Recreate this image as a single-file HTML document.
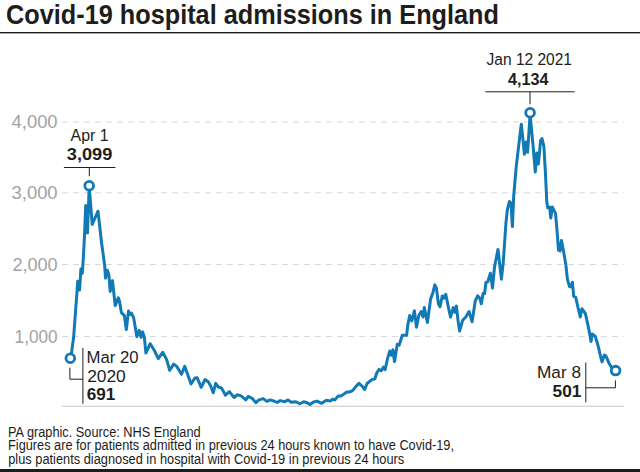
<!DOCTYPE html>
<html lang="en">
<head>
<meta charset="utf-8">
<title>Covid-19 hospital admissions in England</title>
<style>
html,body{margin:0;padding:0;background:#fff;}
body{width:640px;height:472px;overflow:hidden;position:relative;font-family:"Liberation Sans",Arial,sans-serif;}
svg{position:absolute;left:0;top:0;display:block;}
text{font-family:"Liberation Sans",Arial,sans-serif;}
.title{font-weight:bold;font-size:27.5px;fill:#1d1d1b;}
.ax{font-size:17.5px;fill:#a2a2a2;}
.lb{font-size:16.3px;fill:#1d1d1b;}
.lbb{font-size:17px;font-weight:bold;fill:#1d1d1b;}
.ft{font-size:14px;fill:#1d1d1b;}
.grid{stroke:#d6d6d6;stroke-width:1;stroke-dasharray:5.5 5.5;fill:none;}
.call{stroke:#1d1d1b;stroke-width:1;fill:none;}
.dot{fill:#fff;stroke:#1079b6;stroke-width:2.8;}
.curve{fill:none;stroke:#1079b6;stroke-width:3;stroke-linejoin:round;stroke-linecap:round;}
</style>
</head>
<body>
<svg width="640" height="472" viewBox="0 0 640 472">
<rect x="0" y="0" width="640" height="472" fill="#fff"/>
<text class="title" x="6" y="23.9" textLength="493" lengthAdjust="spacingAndGlyphs">Covid-19 hospital admissions in England</text>
<rect x="0" y="32" width="640" height="1.4" fill="#1d1d1b"/>
<!-- grid -->
<line class="grid" x1="62.2" y1="122" x2="624.5" y2="122"/>
<line class="grid" x1="62.2" y1="192.8" x2="624.5" y2="192.8"/>
<line class="grid" x1="62.2" y1="264.5" x2="624.5" y2="264.5"/>
<line class="grid" x1="62.2" y1="336.5" x2="624.5" y2="336.5"/>
<line x1="62" y1="406.2" x2="624.3" y2="406.2" stroke="#c9c9c9" stroke-width="1"/>
<!-- axis labels -->
<text class="ax" x="11.6" y="128" textLength="46" lengthAdjust="spacingAndGlyphs">4,000</text>
<text class="ax" x="11.6" y="199.2" textLength="46" lengthAdjust="spacingAndGlyphs">3,000</text>
<text class="ax" x="12.4" y="271" textLength="45.2" lengthAdjust="spacingAndGlyphs">2,000</text>
<text class="ax" x="14.6" y="343.1" textLength="43" lengthAdjust="spacingAndGlyphs">1,000</text>
<!-- curve -->
<polyline id="curve" class="curve" points="70.5,358.3 71.6,352 73.6,337.5 75.6,310.3 76.9,293.4 77.7,281.3 79.6,290 80.9,269 82.3,273.4 83.4,257 84.6,233.5 85.7,205.5 87.5,233 89.2,186 92.2,224.5 98,211.2 101.6,243 104,260.5 104.7,265.7 105.5,278.2 107.3,270.2 108.9,275 110.2,291.5 112.5,280.6 113.6,290.8 115.2,305.6 118.3,297.8 119.6,301.7 121.4,312.7 124.4,315.6 126.3,329.6 128.5,311 129.7,314.5 131.5,313.1 133.7,318 136.8,336.6 139.2,330.4 141.1,337.4 142.6,331.9 144.4,337.4 145.9,353.1 150.2,343.7 154.1,350 158.3,358.6 162.7,352.3 166.6,359.4 169.7,370.3 173.7,364.1 176.8,366.4 181.5,374.3 184.7,366.3 187.8,374.8 191,384 194.9,378 197.2,377.8 201.2,387.3 205.1,379.5 208.2,381.8 210.6,385.8 213.2,392.8 215.7,383.4 218.4,387 221.5,388.1 225.5,395.2 229.4,391.7 234.1,397.5 237.2,394.8 241.1,395.9 245.8,399.9 248.2,396.4 252.1,398.3 256,402.7 258.4,400.2 263.1,398.6 267,401.4 270.1,399.9 273.9,401 277.1,402.5 280.2,400.6 284.9,401.7 288,399.9 291.2,402.2 295.9,401.7 299.8,403.8 303.7,401.7 307.6,403 310,404.6 313.1,402.2 317,401.1 321.7,403.3 326.4,400.2 330.3,401.1 332.7,399.1 335,399.9 338.2,395.9 341.3,395.9 346.8,392 349.2,392 352.3,390.9 356.2,386.1 359,383.4 362.5,386.5 364.7,389.5 367.1,383.5 371.8,379.6 374.9,378.8 376.9,372.5 379.1,369.4 381.2,370.9 383.5,367 385.1,369.8 387.4,359.2 389.8,351 391.3,355.3 392.9,349.8 394.5,361.5 397.3,344.3 399.2,345.1 402.3,335.2 406.6,335.3 407.8,324.9 409.7,315.5 411.8,320.9 414.4,310.8 416.5,327.2 418.8,315.5 421.2,311.5 423,317 424.3,307.6 427.4,322.5 430.6,299 432.9,292.7 434.8,284.9 436.4,288 438.4,303.7 440,306.8 442.3,295.9 443.9,298.2 445.8,294.3 447.8,304.5 450.5,317 453.3,307.6 454.9,312.3 456.4,306 458,320.2 459.6,331.1 462.7,320.2 465.8,317 469,311.5 472.1,321.7 475.2,301.3 477.6,295.9 479.9,298.2 481.2,303.7 483.1,293.5 484.6,293.5 485.9,282.5 487.8,281.8 490.4,273.3 492.5,288 494.5,267 498,249.4 501.4,279.2 503.3,262 505.9,223.5 507.4,209.4 509.5,201.5 511,203.3 512.4,226.6 513.7,196 516.3,166.1 518.5,147.4 521.3,124.2 523,139.6 524.4,154.3 526.2,142 527.6,152.3 530.1,114 532.9,144.1 535.3,172 536.8,152.9 538.4,163.9 540.6,140.7 542,138.6 543.9,146.3 545.4,172.7 546.8,202 547.7,207.8 549.7,207.1 550.8,218 552.4,207.1 555.5,213.3 557.1,231.3 558.5,250.2 560,251 561.4,240.4 563.5,251 565.9,265.1 567.4,279.2 569.5,286.7 571,286.7 572.4,282.3 573.7,296.4 575.7,297.2 577.7,306.3 580.3,317 581.9,308.7 585.4,313.6 588,325.4 590.2,336.4 591,341.5 592.2,333.9 595.3,336.4 598.1,345.8 600.7,356.8 602,361.9 604.4,355.1 606.1,356.3 609.2,363.6 611.7,367.8 615.7,370.9"/>
<!-- callouts -->
<path class="call" d="M63.9 167.5H115.4M89.3 167.5V176.2"/>
<text class="lb" x="70.6" y="140.5" textLength="38" lengthAdjust="spacingAndGlyphs">Apr 1</text>
<text class="lbb" x="66.8" y="160" textLength="45.6" lengthAdjust="spacingAndGlyphs">3,099</text>
<circle class="dot" cx="89.2" cy="185.7" r="4.35"/>

<path class="call" d="M485.4 91.8H574.6M530 91.8V104.3"/>
<text class="lb" x="486.6" y="65.4" textLength="85.4" lengthAdjust="spacingAndGlyphs">Jan 12 2021</text>
<text class="lbb" x="508" y="84.7" textLength="40.4" lengthAdjust="spacingAndGlyphs">4,134</text>
<circle class="dot" cx="530.1" cy="112.7" r="4.35"/>

<path class="call" d="M82.9 348V403.8M69.9 367.8V379.2H82.9"/>
<text class="lb" x="86.6" y="362.8" textLength="52" lengthAdjust="spacingAndGlyphs">Mar 20</text>
<text class="lb" x="87.2" y="381.8" textLength="38.6" lengthAdjust="spacingAndGlyphs">2020</text>
<text class="lbb" x="86.8" y="400.4" textLength="28.6" lengthAdjust="spacingAndGlyphs">691</text>
<circle class="dot" cx="70.3" cy="358.3" r="4.35"/>

<path class="call" d="M585.8 362.5V402.3M585.8 387.8H615.4V380.4"/>
<text class="lb" x="537" y="378.1" textLength="44" lengthAdjust="spacingAndGlyphs">Mar 8</text>
<text class="lbb" x="552.6" y="397.1" textLength="28.8" lengthAdjust="spacingAndGlyphs">501</text>
<circle class="dot" cx="615.6" cy="370.6" r="4.35"/>
<!-- footer -->
<text class="ft" x="8" y="437.2" textLength="192.6" lengthAdjust="spacingAndGlyphs">PA graphic. Source: NHS England</text>
<text class="ft" x="8" y="450.4" textLength="446" lengthAdjust="spacingAndGlyphs">Figures are for patients admitted in previous 24 hours known to have Covid-19,</text>
<text class="ft" x="8.2" y="463.5" textLength="396" lengthAdjust="spacingAndGlyphs">plus patients diagnosed in hospital with Covid-19 in previous 24 hours</text>
<rect x="0" y="469" width="640" height="3" fill="#1d1d1b"/>
</svg>
</body>
</html>
